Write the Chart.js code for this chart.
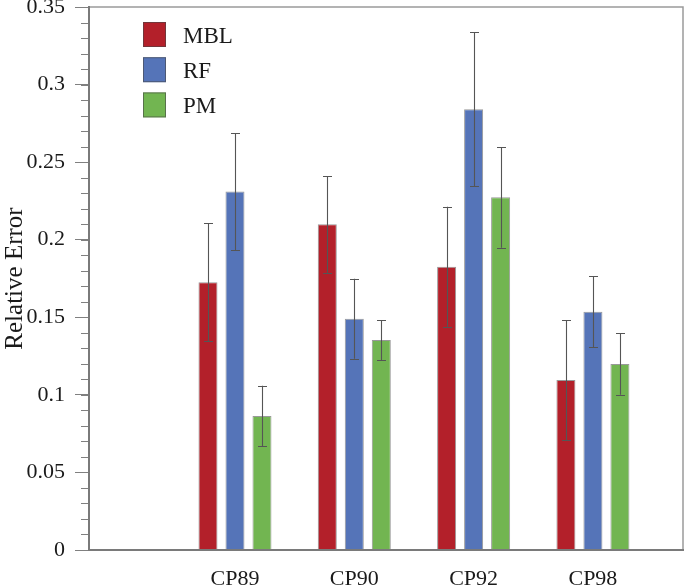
<!DOCTYPE html>
<html><head><meta charset="utf-8">
<script src="https://cdn.jsdelivr.net/npm/chart.js@4/dist/chart.umd.min.js"></script>
<style>html,body{margin:0;padding:0;background:#fff}#wrap{width:685px;height:587px}</style>
</head><body><div id="wrap"><canvas id="c" width="685" height="587"></canvas></div>
<script>
const categories = ['CP89', 'CP90', 'CP92', 'CP98'];
const seriesNames = ['MBL', 'RF', 'PM'];
const mblValues = [0.1726, 0.2099, 0.1826, 0.1096];
const rfValues  = [0.2310, 0.1491, 0.2841, 0.1536];
const pmValues  = [0.0864, 0.1354, 0.2273, 0.1199];
const mblErrors = [0.0382, 0.0312, 0.0387, 0.0387];
const rfErrors  = [0.0378, 0.0258, 0.0495, 0.0230];
const pmErrors  = [0.0195, 0.0129, 0.0325, 0.0199];
const yTicks = [0, 0.05, 0.1, 0.15, 0.2, 0.25, 0.3, 0.35];
const yMinorStep = 0.01;

const colors = ['#B3202A', '#5574B8', '#72B551'];
const serif = '"Liberation Serif", "DejaVu Serif", serif';

function toPoints(vals) { return vals.map((v, i) => ({ x: i + 1, y: v })); }

const seriesValues = [mblValues, rfValues, pmValues];
const seriesErrors = [mblErrors, rfErrors, pmErrors];

const datasets = seriesNames.map((name, k) => ({
  label: name,
  data: toPoints(seriesValues[k]),
  errors: seriesErrors[k],
  backgroundColor: colors[k],
  borderColor: 'rgba(70,70,70,0.55)',
  borderWidth: 1,
  categoryPercentage: 0.679,
  barPercentage: 0.704
}));

const extras = {
  id: 'extras',
  afterDatasetsDraw(chart) {
    const ctx = chart.ctx, ys = chart.scales.y;
    ctx.save();
    ctx.strokeStyle = '#555';
    ctx.lineWidth = 1.1;
    chart.data.datasets.forEach((ds, d) => {
      const meta = chart.getDatasetMeta(d);
      meta.data.forEach((el, i) => {
        const v = ds.data[i].y, e = ds.errors[i];
        const x = Math.round(el.x) + 0.5;
        const t = ys.getPixelForValue(v + e), b = ys.getPixelForValue(v - e);
        ctx.beginPath();
        ctx.moveTo(x, t); ctx.lineTo(x, b);
        ctx.moveTo(x - 4.5, Math.round(t) + 0.5); ctx.lineTo(x + 4.5, Math.round(t) + 0.5);
        ctx.moveTo(x - 4.5, Math.round(b) + 0.5); ctx.lineTo(x + 4.5, Math.round(b) + 0.5);
        ctx.stroke();
      });
    });
    ctx.restore();
  },
  afterDraw(chart) {
    const ctx = chart.ctx, a = chart.chartArea, ys = chart.scales.y;
    ctx.save();
    // minor ticks
    ctx.strokeStyle = '#808080';
    ctx.lineWidth = 1;
    for (let v = 0; v <= ys.max + 1e-9; v += yMinorStep) {
      const y = Math.round(ys.getPixelForValue(v)) + 0.5;
      ctx.beginPath(); ctx.moveTo(a.left - 8, y); ctx.lineTo(a.left, y); ctx.stroke();
    }
    // frame
    ctx.strokeStyle = '#9a9a9a';
    ctx.lineWidth = 1.5;
    ctx.beginPath();
    ctx.moveTo(a.left, a.top); ctx.lineTo(a.right, a.top); ctx.lineTo(a.right, a.bottom);
    ctx.stroke();
    ctx.strokeStyle = '#7a7a7a';
    ctx.lineWidth = 2;
    ctx.beginPath();
    ctx.moveTo(a.left, a.top - 1); ctx.lineTo(a.left, a.bottom); ctx.lineTo(a.right + 1, a.bottom);
    ctx.stroke();
    // legend
    const bx = 143, by0 = 22, step = 35.2, bw = 23, bh = 25;
    chart.data.datasets.forEach((ds, k) => {
      const by = by0 + k * step;
      ctx.fillStyle = ds.backgroundColor;
      ctx.fillRect(bx, by, bw, bh);
      ctx.strokeStyle = 'rgba(70,70,70,0.6)';
      ctx.lineWidth = 1;
      ctx.strokeRect(bx + 0.5, by + 0.5, bw - 1, bh - 1);
      ctx.fillStyle = '#1a1a1a';
      ctx.font = '23px ' + serif;
      ctx.textBaseline = 'middle';
      ctx.textAlign = 'left';
      ctx.fillText(ds.label, 183, by + bh / 2 + 2);
    });
    ctx.restore();
  }
};

new Chart(document.getElementById('c'), {
  type: 'bar',
  data: { datasets },
  options: {
    responsive: false,
    animation: false,
    layout: { padding: { left: 0, top: 7, right: 2, bottom: 0 } },
    plugins: { legend: { display: false }, tooltip: { enabled: false } },
    scales: {
      x: {
        type: 'linear',
        offset: false,
        min: -0.2235,
        max: 4.755,
        afterBuildTicks(scale) { scale.ticks = categories.map((c, i) => ({ value: i + 1 })); },
        afterFit(scale) { scale.height = 37; scale.paddingLeft = 0; scale.paddingRight = 0; },
        grid: { display: false, drawTicks: false },
        border: { display: false },
        ticks: {
          autoSkip: false,
          maxRotation: 0,
          padding: 16,
          color: '#1a1a1a',
          font: { family: serif, size: 22 },
          callback: (v) => categories[v - 1] || ''
        }
      },
      y: {
        min: 0,
        max: 0.35,
        afterBuildTicks(scale) { scale.ticks = yTicks.map(v => ({ value: v })); },
        afterFit(scale) { scale.width = 89; scale.paddingTop = 0; scale.paddingBottom = 0; },
        grid: { drawOnChartArea: false, drawTicks: true, tickLength: 14, color: '#808080', tickColor: '#808080' },
        border: { display: false },
        ticks: {
          padding: 10,
          color: '#1a1a1a',
          font: { family: serif, size: 22 },
          callback: (v) => String(+v.toFixed(2))
        },
        title: {
          display: true,
          text: 'Relative Error',
          color: '#1a1a1a',
          font: { family: serif, size: 25 },
          padding: { top: 0, bottom: 0 }
        }
      }
    }
  },
  plugins: [extras]
});
</script></body></html>
